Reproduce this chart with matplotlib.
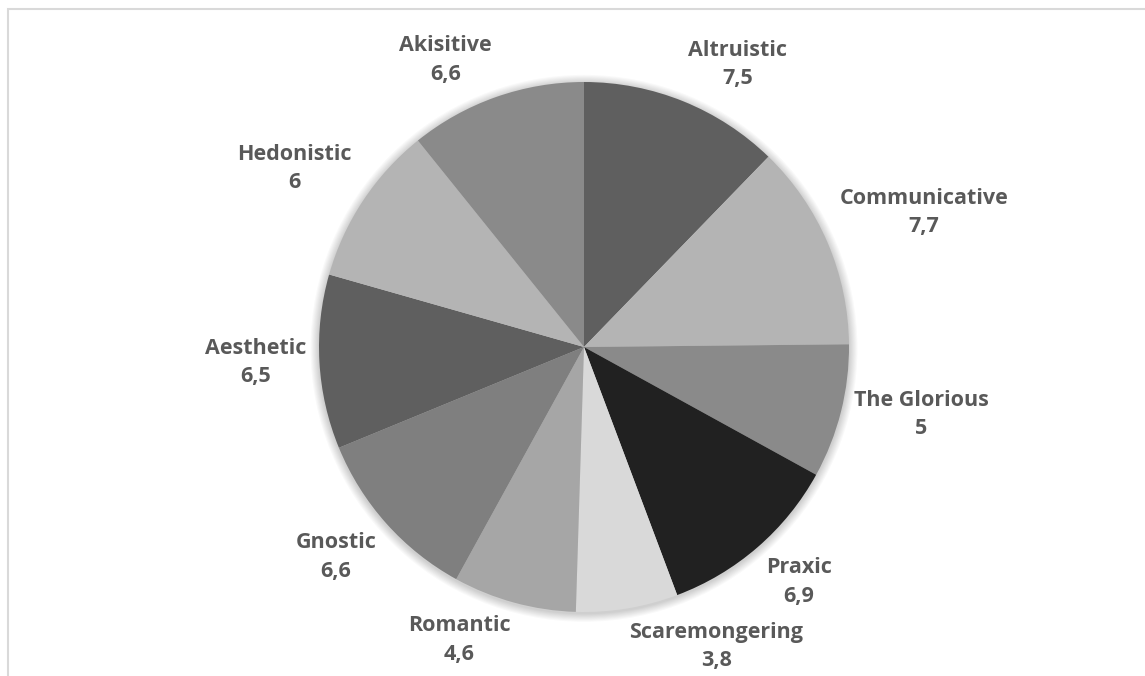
import numpy as np
import matplotlib.pyplot as plt
from matplotlib.patches import Rectangle, Circle

# data
categories = ['Altruistic', 'Communicative', 'The Glorious', 'Praxic', 'Scaremongering',
              'Romantic', 'Gnostic', 'Aesthetic', 'Hedonistic', 'Akisitive']
values = [7.5, 7.7, 5.0, 6.9, 3.8, 4.6, 6.6, 6.5, 6.0, 6.6]
value_labels = ['7,5', '7,7', '5', '6,9', '3,8', '4,6', '6,6', '6,5', '6', '6,6']
colors = ['#5f5f5f', '#b4b4b4', '#8a8a8a', '#212121', '#d9d9d9',
          '#a6a6a6', '#7f7f7f', '#5f5f5f', '#b4b4b4', '#8a8a8a']

W, H = 1145, 676
cx, cy, rad = 584, 347, 265   # pie centre / radius in pixels

fig = plt.figure(figsize=(W / 100, H / 100), dpi=100)
ax = fig.add_axes([0, 0, 1, 1])

# chart frame (cut off at right / bottom like the reference)
fig.patches.append(Rectangle((8 / W, -0.05), 1.1, 1 - 9 / H + 0.05, transform=fig.transFigure,
                             fill=False, edgecolor='#d9d9d9', linewidth=1.5))

# soft shadow behind the pie
for i in range(8):
    ax.add_patch(Circle((0, -0.005), 1 + 0.004 * (i + 1), color='black',
                        alpha=0.025, linewidth=0, zorder=0))

wedges, _ = ax.pie(values, colors=colors, startangle=90, counterclock=False,
                   radius=1.0, wedgeprops={'linewidth': 0})
for w in wedges:
    w.set_zorder(2)

ax.set_aspect('auto')
ax.set_xlim(-cx / rad, (W - cx) / rad)
ax.set_ylim(-(H - cy) / rad, cy / rad)
ax.axis('off')

# data labels outside end, Excel-like anchoring
for w, cat, lab in zip(wedges, categories, value_labels):
    ang = np.deg2rad((w.theta1 + w.theta2) / 2)
    c, s = np.cos(ang), np.sin(ang)
    r = 1.05
    ha = 'left' if c > 0.15 else ('right' if c < -0.15 else 'center')
    va = 'bottom' if s > 0.3 else ('top' if s < -0.3 else 'center')
    ax.text(r * c, r * s, cat + '\n' + lab, ha=ha, va=va, multialignment='center',
            fontsize=15.5, fontweight='bold', color='#595959', family=['Open Sans', 'DejaVu Sans'],
            linespacing=1.45, zorder=3)

fig.savefig('out.png', dpi=100)
